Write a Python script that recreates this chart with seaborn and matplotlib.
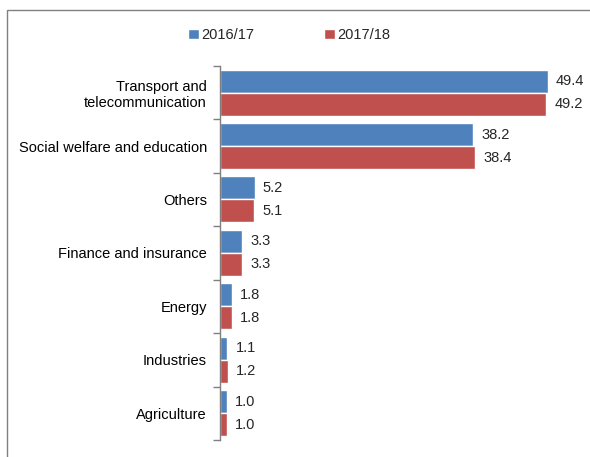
import matplotlib
matplotlib.use("Agg")
import matplotlib.pyplot as plt
from matplotlib.patches import Rectangle
from matplotlib.ticker import FixedLocator
import seaborn as sns
import pandas as pd

categories = ["Transport and\ntelecommunication", "Social welfare and education",
              "Others", "Finance and insurance", "Energy", "Industries", "Agriculture"]
series = ["2016/17", "2017/18"]
values_2016 = [49.4, 38.2, 5.2, 3.3, 1.8, 1.1, 1.0]
values_2017 = [49.2, 38.4, 5.1, 3.3, 1.8, 1.2, 1.0]
colors = ["#4F81BD", "#C0504D"]

df = pd.DataFrame({
    "sector": categories * 2,
    "year": [series[0]] * len(categories) + [series[1]] * len(categories),
    "share": values_2016 + values_2017,
})

sns.set_style("white")
plt.rcParams["font.family"] = ["Liberation Sans", "DejaVu Sans"]

fig = plt.figure(figsize=(5.9, 4.57), dpi=100)
ax = fig.add_axes([0.373, 0.037, 0.618, 0.819])

sns.barplot(data=df, y="sector", x="share", hue="year", order=categories,
            hue_order=series, palette=colors, orient="h", width=0.86,
            saturation=1, ax=ax, legend=True)

ax.set_xlim(0, 55)
ax.set_ylim(len(categories) - 0.5, -0.5)
ax.set_xlabel("")
ax.set_ylabel("")
ax.set_xticks([])
for side in ["top", "right", "bottom"]:
    ax.spines[side].set_visible(False)
ax.spines["left"].set_color("#7f7f7f")
ax.spines["left"].set_linewidth(1.0)

ax.tick_params(axis="y", which="major", length=0, pad=9.5, labelsize=10.5, colors="black")
ax.yaxis.set_minor_locator(FixedLocator([i - 0.5 for i in range(len(categories) + 1)]))
ax.tick_params(axis="y", which="minor", length=5, width=1.0, color="#7f7f7f", left=True)

for container in ax.containers:
    ax.bar_label(container, fmt="%.1f", padding=6, fontsize=10.5)

leg = ax.legend(loc="center", frameon=False,
                ncol=2, fontsize=10.5, handlelength=0.75, handleheight=0.75,
                handletextpad=0.15, columnspacing=4.8)
leg.set_bbox_to_anchor((289 / 590, 1 - 35 / 457), transform=fig.transFigure)

fig.patches.append(Rectangle((7 / 590, -0.1), 1.2, 1 - 10 / 457 + 0.1,
                             transform=fig.transFigure, fill=False,
                             edgecolor="#808080", linewidth=1.0))

fig.savefig("out.png", dpi=100)
